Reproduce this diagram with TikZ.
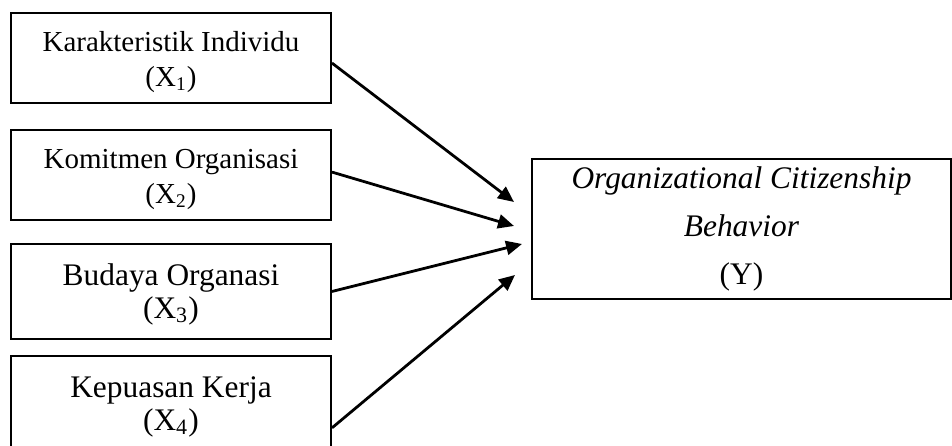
\documentclass[tikz,border=0pt]{standalone}
\usepackage{fontspec}
\setmainfont{Liberation Serif}
\usetikzlibrary{arrows.meta}
\newcommand\topstrut{\rule{0pt}{11.5pt}}

\begin{document}
\begin{tikzpicture}[x=0.414pt, y=-0.414pt,
  var/.style={draw, line width=0.8pt, minimum width=132.5pt, align=center, inner sep=0pt},
  small/.style={font=\fontsize{12}{14.5}\selectfont},
  big/.style={font=\fontsize{13}{13.3}\selectfont},
  >={Triangle[length=6.6pt, width=5.8pt]}]
 \useasboundingbox (0,0) rectangle (952,446);
 \node (x1) [var, small, minimum height=37.3pt] at (171,58) {\topstrut Karakteristik Individu\\(X\textsubscript{1})};
 \node (x2) [var, small, minimum height=37.3pt] at (171,175) {\topstrut Komitmen Organisasi\\(X\textsubscript{2})};
 \node (x3) [var, big, minimum height=39.3pt] at (171,291.5) {\topstrut Budaya Organasi\\(X\textsubscript{3})};
 \node (x4) [var, big, minimum height=39.3pt] at (171,403.5) {\topstrut Kepuasan Kerja\\(X\textsubscript{4})};
 \node (y) [var, minimum width=173.5pt, minimum height=58pt, font=\fontsize{13}{19.8}\selectfont] at (741.5,229)
  {\textit{Organizational Citizenship}\\\textit{Behavior}\\(Y)};
 \coordinate (t1) at (514,202);
 \coordinate (t2) at (514,226);
 \coordinate (t3) at (522,244);
 \coordinate (t4) at (515,275);
 \path[->, line width=1.15pt]
  ([yshift=-2.1pt]x1.east) edge (t1)
  ([yshift=1.2pt]x2.east) edge (t2)
  (x3.east) edge (t3)
  ([yshift=-10.1pt]x4.east) edge (t4)
 ;
\end{tikzpicture}
\end{document}
